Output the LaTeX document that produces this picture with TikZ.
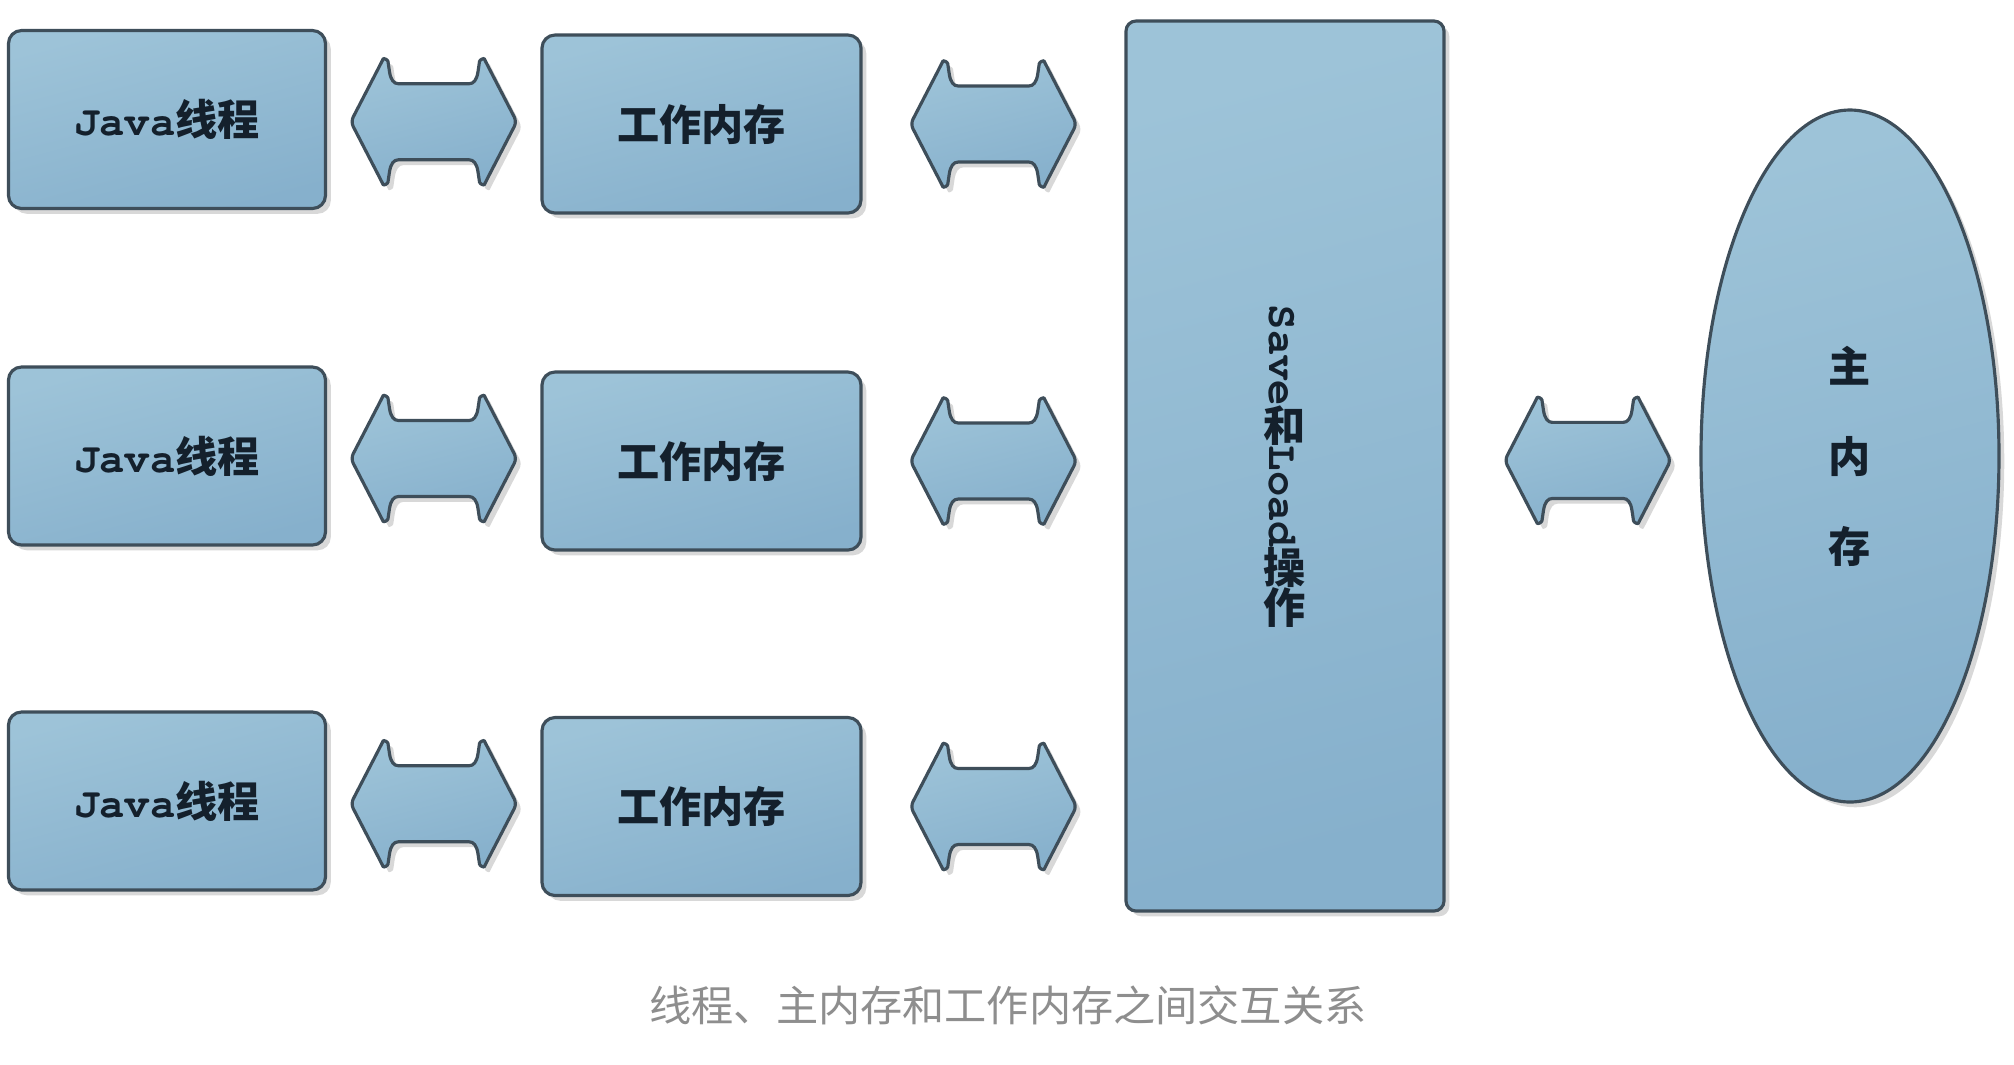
\documentclass[tikz,border=0pt]{standalone}
\usepackage{fontspec}
\newfontfamily\cjk{Noto Sans CJK SC}
\newfontfamily\javamono{texgyrecursor}[Extension=.otf,UprightFont=*-regular,BoldFont=*-bold]
\usetikzlibrary{shapes.geometric,shadows,calc}
\definecolor{boxtop}{HTML}{9DC3D8}
\definecolor{boxbottom}{HTML}{86B0CC}
\definecolor{boxline}{HTML}{3E4E5A}
\definecolor{boxtext}{HTML}{14202C}
\definecolor{capgray}{HTML}{8E8E8E}
\newcommand\upright[1]{\rotatebox[origin=c]{90}{#1}}
\tikzset{
  memory/.style={draw=boxline,line width=0.9pt,top color=boxtop,bottom color=boxbottom,shading angle=15,
    drop shadow={shadow xshift=1.5pt,shadow yshift=-1.5pt,fill=black!30,opacity=0.5},
    text=boxtext,font=\cjk\bfseries\fontsize{12}{14.4}\selectfont},
  biarrow/.pic={
    \draw[memory,rounded corners=1.5pt] (-0.83,0) -- (-0.53,0.58) .. controls (-0.5,0.64) and (-0.46,0.62) .. (-0.45,0.55) .. controls (-0.43,0.42) and (-0.4,0.38) .. (-0.3,0.38) -- (0.3,0.38) .. controls (0.4,0.38) and (0.43,0.42) .. (0.45,0.55) .. controls (0.46,0.62) and (0.5,0.64) .. (0.53,0.58) -- (0.83,0) -- (0.53,-0.58) .. controls (0.5,-0.64) and (0.46,-0.62) .. (0.45,-0.55) .. controls (0.43,-0.42) and (0.4,-0.38) .. (0.3,-0.38) -- (-0.3,-0.38) .. controls (-0.4,-0.38) and (-0.43,-0.42) .. (-0.45,-0.55) .. controls (-0.46,-0.62) and (-0.5,-0.64) .. (-0.53,-0.58) -- cycle;
  }
}
\begin{document}
\begin{tikzpicture}
    \fill[white] (0,0) rectangle (20.14,-10.64);
    \useasboundingbox (0,0) rectangle (20.14,-10.64);
    \node[memory,rounded corners=0.1cm,minimum width=3.18cm,minimum height=8.9cm] (save) at (12.85,-4.66) {};
    \node[text=boxtext,font=\cjk\bfseries\fontsize{12}{14.4}\selectfont,rotate=-90] (savetext) at (save.center) {{\javamono Save}\upright{和}{\javamono Load}\upright{操}\upright{作}};
    \node[memory,ellipse,minimum width=2.98cm,minimum height=6.92cm,inner sep=0pt,align=center,font=\cjk\bfseries\fontsize{12}{25.6}\selectfont] (main) at (18.5,-4.56) {主\\内\\存};
    \foreach \i/\yj/\yw in {1/1.195/1.24,2/4.56/4.61,3/8.01/8.065}{
        \node[memory,rounded corners=0.13cm,minimum width=3.17cm,minimum height=1.78cm] (java\i) at (1.67,-\yj) {{\javamono Java}线程};
        \node[memory,rounded corners=0.13cm,minimum width=3.19cm,minimum height=1.78cm] (work\i) at (7.015,-\yw) {工作内存};
        \pic at ($(java\i.east)!0.5!(work\i.west)$) {biarrow};
        \pic at ($(work\i.east)!0.5!(work\i.east -| save.west)$) {biarrow};
    }
    \pic at ($(save.east)!0.56!(main.west)$) {biarrow};
    \node[font=\cjk\fontsize{12}{14.4}\selectfont,text=capgray] (caption) at (10.08,-10.05) {线程、主内存和工作内存之间交互关系};
\end{tikzpicture}
\end{document}
